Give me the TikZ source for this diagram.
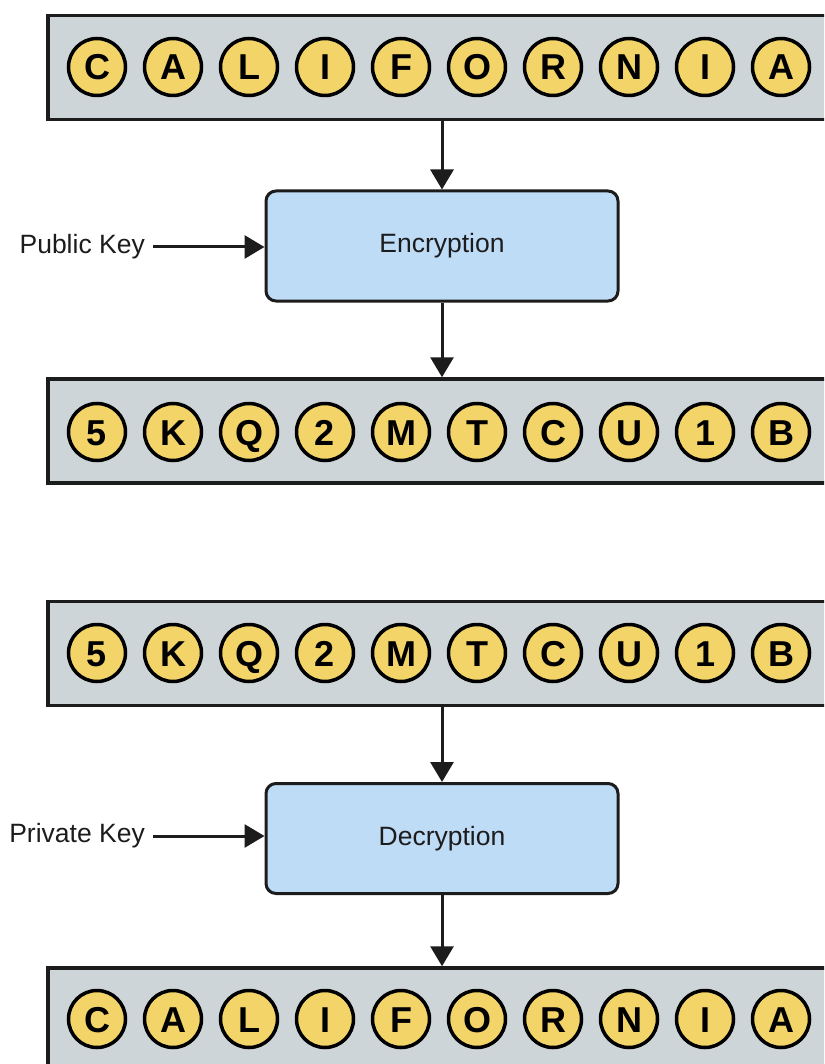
\documentclass[tikz,border=0pt]{standalone}
\usepackage{fontspec}
\setmainfont{Liberation Sans}
\usetikzlibrary{arrows.meta,positioning}
\definecolor{slab}{HTML}{CDD5D9}
\definecolor{coin}{HTML}{F3D469}
\definecolor{sky}{HTML}{BFDCF7}
\definecolor{ink}{HTML}{1C1C1C}

\begin{document}
\begin{tikzpicture}[x=1pt, y=-1pt,
    bar/.style={rectangle, draw=ink, line width=3.5pt, fill=slab, minimum width=820pt,
      minimum height=104pt, anchor=west},
    ball/.style={circle, draw=black, line width=3.5pt, fill=coin, minimum size=57pt,
      inner sep=0pt, text height=26pt, text depth=0pt,
      font=\fontsize{36}{36}\selectfont\bfseries},
    stage/.style={rectangle, rounded corners=10pt, draw=ink, line width=3pt, fill=sky,
      minimum width=352pt, minimum height=110pt, text=ink, font=\fontsize{26.5}{30}\selectfont},
    lbl/.style={anchor=east, inner sep=0pt, text=ink, font=\fontsize{26.5}{30}\selectfont},
    flow/.style={-{Triangle[width=23pt,length=20pt]}, line width=3pt, draw=ink}]
  \useasboundingbox (0,0) rectangle (824,1064);
  \clip (0,0) rectangle (824,1064);

  % encryption
  \node[bar] (plain) at (46,67.5) {};
  \foreach \c [count=\i] in {C,A,L,I,F,O,R,N,I,A}
    \node[ball] (a\i) at (97+76*\i-76,67) {\c};
  \node[stage] (enc) at (442,246) {Encryption};
  \node[lbl] (pub) at (145,247) {Public Key};
  \node[bar] (cipher) at (46,431) {};
  \foreach \c [count=\i] in {5,K,Q,2,M,T,C,U,1,B}
    \node[ball] (b\i) at (97+76*\i-76,432) {\c};
  \draw[flow] (enc |- plain.south) -- (enc.north);
  \draw[flow, shorten <=8pt] (pub.east) -- (pub.east -| enc.west);
  \draw[flow] (enc.south) -- (enc |- cipher.north);

  % decryption
  \node[bar] (cipher2) at (46,653.5) {};
  \foreach \c [count=\i] in {5,K,Q,2,M,T,C,U,1,B}
    \node[ball] (d\i) at (97+76*\i-76,653) {\c};
  \node[stage] (dec) at (442,838.5) {Decryption};
  \node[lbl] (priv) at (145,836) {Private Key};
  \node[bar] (plain2) at (46,1020) {};
  \foreach \c [count=\i] in {C,A,L,I,F,O,R,N,I,A}
    \node[ball] (e\i) at (97+76*\i-76,1019) {\c};
  \draw[flow] (dec |- cipher2.south) -- (dec.north);
  \draw[flow, shorten <=8pt] (priv.east) -- (priv.east -| dec.west);
  \draw[flow] (dec.south) -- (dec |- plain2.north);
\end{tikzpicture}
\end{document}
